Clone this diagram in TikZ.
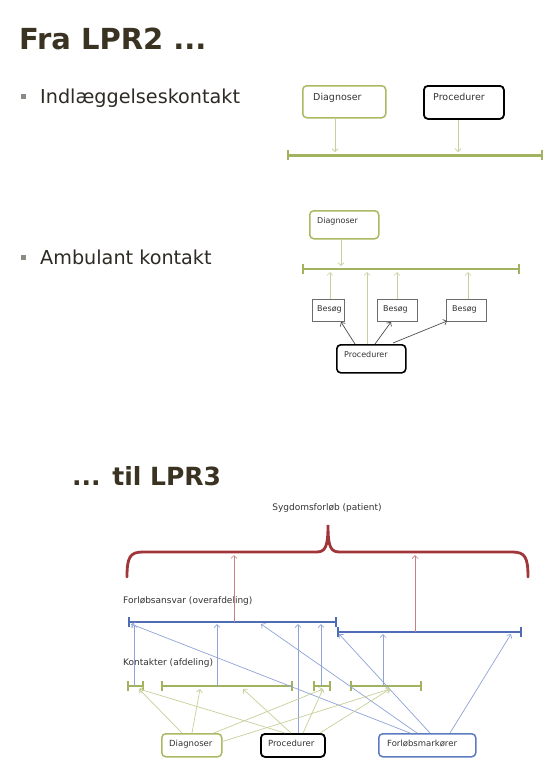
\documentclass[tikz,border=0pt]{standalone}
\usepackage{fontspec}
\setmainfont{DejaVu Sans}
\usetikzlibrary{arrows.meta}

\definecolor{titlebrown}{HTML}{3A3322}
\definecolor{bodytext}{HTML}{2E2B24}
\definecolor{bulletgray}{HTML}{8C8A84}
\definecolor{boxgreen}{HTML}{A9BA63}
\definecolor{linegreen}{HTML}{A2B35F}
\definecolor{thingreen}{HTML}{C7D09A}
\definecolor{lineblue}{HTML}{4E6DB5}
\definecolor{thinblue}{HTML}{8FA3D6}
\definecolor{boxblue}{HTML}{5B7CC0}
\definecolor{bracered}{HTML}{A0353A}
\definecolor{thinred}{HTML}{C98084}
\definecolor{labeltext}{HTML}{333333}

\tikzset{
  headline/.style={anchor=base west, inner sep=0pt, text=titlebrown, font=\bfseries},
  bullettext/.style={anchor=base west, inner sep=0pt, text=bodytext, font=\fontsize{19.2}{23}\selectfont},
  bulletmark/.style={fill=bulletgray, minimum size=5pt, inner sep=0pt},
  lbl/.style={anchor=base west, inner sep=0pt, text=labeltext},
  greenbox/.style={draw=boxgreen, line width=1.5pt, rounded corners=4pt, anchor=north west, inner sep=0pt},
  blackbox/.style={draw=black, line width=1.8pt, rounded corners=4pt, anchor=north west, inner sep=0pt},
  bluebox/.style={draw=boxblue, line width=1.5pt, rounded corners=4pt, anchor=north west, inner sep=0pt},
  visitbox/.style={draw=gray!85!black, line width=0.6pt, anchor=north west, inner sep=0pt},
  tip/.style={-{Straight Barb[length=3pt,width=6pt]}},
  garrow/.style={tip, draw=thingreen, line width=0.7pt},
  barrow/.style={tip, draw=thinblue, line width=0.7pt},
  rarrow/.style={tip, draw=thinred, line width=0.7pt},
  karrow/.style={tip, draw=black!70, line width=0.7pt},
  gtimeline/.style={draw=linegreen, line width=3pt,
    {Bar[width=10pt,line width=1.6pt]}-{Bar[width=10pt,line width=1.6pt]}},
  btimeline/.style={draw=lineblue, line width=2.8pt,
    {Bar[width=10pt,line width=1.6pt]}-{Bar[width=10pt,line width=1.6pt]}},
  brace/.style={draw=bracered, line width=2.8pt, line cap=round}
}

\begin{document}
\begin{tikzpicture}[x=1pt,y=-1pt]
\useasboundingbox[fill=white] (0,0) rectangle (559,780);

% ---------- headings and bullets ----------
\node[headline, font=\fontsize{29}{34}\selectfont\bfseries] (head1) at (19,49) {Fra LPR2 ...};
\node[bulletmark] (bul1) at (23,96.5) {};
\node[bullettext] (txt1) at (40,103) {Indlæggelseskontakt};
\node[bulletmark] (bul2) at (23,257.5) {};
\node[bullettext] (txt2) at (40,264) {Ambulant kontakt};
\node[headline, font=\fontsize{25}{30}\selectfont\bfseries] (head2) at (72,485) {... til LPR3};

% ---------- admission contact ----------
\node[greenbox, minimum width=83pt, minimum height=32pt] (d1) at (302,85) {};
\node[lbl, font=\fontsize{9.5}{11}\selectfont] at (313,100) {Diagnoser};
\node[blackbox, minimum width=80pt, minimum height=33pt] (p1) at (423,85) {};
\node[lbl, font=\fontsize{9.5}{11}\selectfont] at (433,100) {Procedurer};

\coordinate (t1a) at (287,155);
\coordinate (t1b) at (543,155);
\draw[gtimeline] (t1a) -- (t1b);
\coordinate (t1d) at (335,152);
\coordinate (t1p) at (458,152);
\draw[garrow] (d1.south -| t1d) -- (t1d);
\draw[garrow] (p1.south -| t1p) -- (t1p);

% ---------- outpatient contact ----------
\node[greenbox, minimum width=69pt, minimum height=28pt] (d2) at (309,210) {};
\node[lbl, font=\fontsize{8}{10}\selectfont] at (317,223.5) {Diagnoser};

\coordinate (t2a) at (302,269);
\coordinate (t2b) at (520,269);
\draw[gtimeline, line width=2.6pt] (t2a) -- (t2b);
\coordinate (t2d) at (341,266);
\draw[garrow] (d2.south -| t2d) -- (t2d);

\node[visitbox, minimum width=32pt, minimum height=22pt] (b1) at (312,299) {};
\node[visitbox, minimum width=40pt, minimum height=22pt] (b2) at (377,299) {};
\node[visitbox, minimum width=40pt, minimum height=22pt] (b3) at (446,299) {};
\node[lbl, font=\fontsize{8}{10}\selectfont] at (317,311) {Besøg};
\node[lbl, font=\fontsize{8}{10}\selectfont] at (383,311) {Besøg};
\node[lbl, font=\fontsize{8}{10}\selectfont] at (452,311) {Besøg};

\coordinate (t2v1) at (330,272);
\coordinate (t2v2) at (397,272);
\coordinate (t2v3) at (468,272);
\draw[garrow] (b1.north -| t2v1) -- (t2v1);
\draw[garrow] (b2.north -| t2v2) -- (t2v2);
\draw[garrow] (b3.north -| t2v3) -- (t2v3);

\node[blackbox, line width=1.6pt, minimum width=69pt, minimum height=28pt] (p2) at (336,344) {};
\node[lbl, font=\fontsize{8}{10}\selectfont] at (344,357) {Procedurer};
\coordinate (t2p) at (367,272);
\draw[garrow] (p2.north -| t2p) -- (t2p);

\coordinate (p2o1) at (355,344);
\coordinate (p2o2) at (375,344);
\coordinate (p2o3) at (393,343);
\coordinate (b1in) at (341,322);
\coordinate (b2in) at (391,322);
\coordinate (b3in) at (447,321);
\draw[karrow] (p2o1) -- (b1in);
\draw[karrow] (p2o2) -- (b2in);
\draw[karrow] (p2o3) -- (b3in);

% ---------- disease course ----------
\node[lbl, anchor=base, font=\fontsize{9}{11}\selectfont] (course) at (327,510) {Sygdomsforløb (patient)};
\draw[brace] (127,577) .. controls (127,557) and (130,552) .. (143,552)
  -- (316,552) .. controls (325,552) and (328,548) .. (328,525)
  .. controls (328,548) and (331,552) .. (340,552)
  -- (512,552) .. controls (525,552) and (528,557) .. (528,577);

\node[lbl, font=\fontsize{9}{11}\selectfont] (resp) at (123,603) {Forløbsansvar (overafdeling)};
\node[lbl, font=\fontsize{9}{11}\selectfont] (cont) at (123,665) {Kontakter (afdeling)};

% department responsibility lines
\coordinate (ra) at (128,622);
\coordinate (rb) at (337,622);
\coordinate (sa) at (337,632);
\coordinate (sb) at (522,632);
\draw[btimeline] (ra) -- (rb);
\draw[btimeline] (sa) -- (sb);

% red links up to the brace
\coordinate (bra) at (234,555);
\coordinate (brb) at (415,555);
\draw[rarrow] (ra -| bra) -- (bra);
\draw[rarrow] (sa -| brb) -- (brb);

% contact lines
\coordinate (g1a) at (127,686);
\coordinate (g1b) at (144,686);
\coordinate (g2a) at (161,686);
\coordinate (g2b) at (293,686);
\coordinate (g3a) at (313,686);
\coordinate (g3b) at (331,686);
\coordinate (g4a) at (350,686);
\coordinate (g4b) at (422,686);
\draw[gtimeline, line width=2.8pt] (g1a) -- (g1b);
\draw[gtimeline, line width=2.8pt] (g2a) -- (g2b);
\draw[gtimeline, line width=2.8pt] (g3a) -- (g3b);
\draw[gtimeline, line width=2.8pt] (g4a) -- (g4b);

% boxes
\node[greenbox, minimum width=60pt, minimum height=23pt] (dg) at (161,733) {};
\node[lbl, font=\fontsize{8.5}{10}\selectfont] at (169,746) {Diagnoser};
\node[blackbox, minimum width=64pt, minimum height=23pt] (pr) at (260,733) {};
\node[lbl, font=\fontsize{8.5}{10}\selectfont] at (268,746) {Procedurer};
\node[bluebox, minimum width=97pt, minimum height=23pt] (fm) at (378,733) {};
\node[lbl, font=\fontsize{8.5}{10}\selectfont] at (387,746) {Forløbsmarkører};

% contacts up to responsibility
\coordinate (c1) at (134,686);
\coordinate (c2) at (217,686);
\coordinate (c3) at (321,686);
\coordinate (c4) at (383,686);
\draw[barrow] (c1) -- (c1 |- 624,624);
\draw[barrow] (c2) -- (c2 |- 624,624);
\draw[barrow] (c3) -- (c3 |- 624,624);
\draw[barrow] (c4) -- (c4 |- 634,634);
\coordinate (prup) at (298,624);
\draw[barrow] (pr.north -| prup) -- (prup);

% course markers
\coordinate (fm1) at (410,733);
\coordinate (fm2) at (417,733);
\coordinate (fm3) at (430,733);
\coordinate (fm4) at (450,733);
\coordinate (ra1) at (131,624);
\coordinate (ra2) at (261,624);
\coordinate (sa1) at (339,634);
\coordinate (sb1) at (511,634);
\draw[barrow] (fm1) -- (ra1);
\draw[barrow] (fm2) -- (ra2);
\draw[barrow] (fm3) -- (sa1);
\draw[barrow] (fm4) -- (sb1);

% diagnoses and procedures to contacts
\coordinate (k1) at (139,689);
\coordinate (k2l) at (200,689);
\coordinate (k2r) at (243,689);
\coordinate (k3) at (323,689);
\coordinate (k4) at (390,689);
\coordinate (dgo1) at (182,733);
\coordinate (dgo2) at (192,733);
\coordinate (dgo3) at (214,733);
\coordinate (dgo4) at (221,742);
\coordinate (pro1) at (285,733);
\coordinate (pro2) at (291,733);
\coordinate (pro3) at (303,733);
\coordinate (pro4) at (320,733);
\draw[garrow] (dgo1) -- (k1);
\draw[garrow] (dgo2) -- (k2l);
\draw[garrow] (dgo3) -- (k3);
\draw[garrow] (dgo4) -- (k4);
\draw[garrow] (pro1) -- (k1);
\draw[garrow] (pro2) -- (k2r);
\draw[garrow] (pro3) -- (k3);
\draw[garrow] (pro4) -- (k4);
\end{tikzpicture}
\end{document}
